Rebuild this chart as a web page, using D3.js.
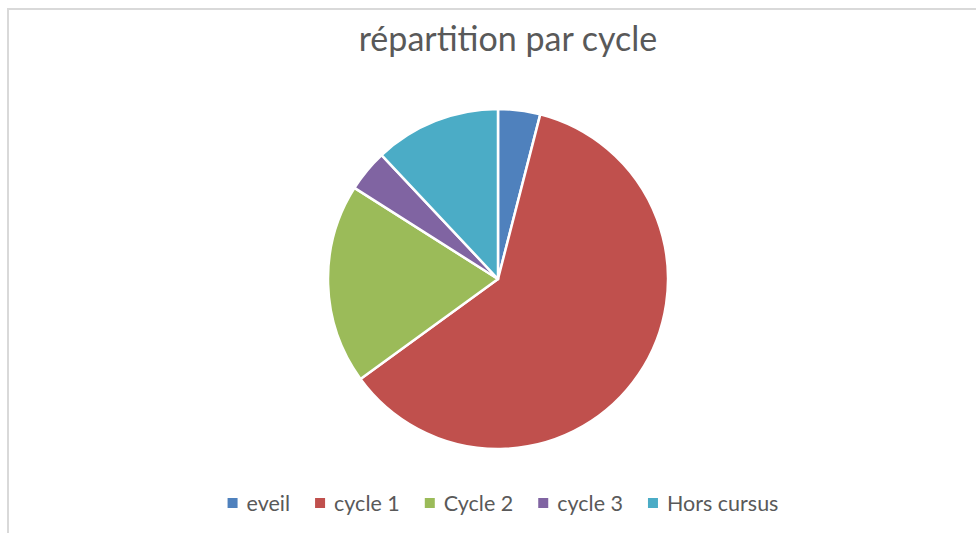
<!DOCTYPE html>
<meta charset="utf-8">
<script src="https://d3js.org/d3.v7.min.js"></script>
<style>
body { margin: 0; background: #fff; }
.title { font-family: Lato, "Open Sans", sans-serif; font-size: 34px; fill: #595959; }
.legend text { font-family: Lato, "Open Sans", sans-serif; font-size: 21.5px; fill: #595959; }
</style>
<body></body>
<script>

// chart data
var categories = ['eveil', 'cycle 1', 'Cycle 2', 'cycle 3', 'Hors cursus'];
var values = [4, 61, 19, 4, 12];
var colors = ['#4f81bd', '#c0504d', '#9bbb59', '#8064a2', '#4bacc6'];

var width = 976, height = 533;
var cx = 498, cy = 279, radius = 170;

var svg = d3.select('body').append('svg')
  .attr('width', width)
  .attr('height', height);

// chart area border
svg.append('rect')
  .attr('x', 8).attr('y', 9)
  .attr('width', width).attr('height', height)
  .attr('fill', 'none')
  .attr('stroke', '#d9d9d9')
  .attr('stroke-width', 2);

svg.append('text')
  .attr('class', 'title')
  .attr('x', 508)
  .attr('y', 51)
  .attr('text-anchor', 'middle')
  .text('répartition par cycle');

var data = categories.map(function(c, i) { return {name: c, value: values[i]}; });

var color = d3.scaleOrdinal().domain(categories).range(colors);

var pie = d3.pie()
  .sort(null)
  .value(function(d) { return d.value; });

var arc = d3.arc()
  .innerRadius(0)
  .outerRadius(radius);

svg.append('g')
  .attr('transform', 'translate(' + cx + ',' + cy + ')')
  .selectAll('path')
  .data(pie(data))
  .enter().append('path')
  .attr('d', arc)
  .attr('fill', function(d) { return color(d.data.name); })
  .attr('stroke', '#fff')
  .attr('stroke-width', 2.5)
  .attr('stroke-linejoin', 'round');

// legend, laid out from measured text widths and centred
var legend = svg.append('g').attr('class', 'legend');
var box = 10, gapText = 9, gapItem = 25;

var items = legend.selectAll('g')
  .data(categories)
  .enter().append('g');

items.append('rect')
  .attr('width', box).attr('height', box)
  .attr('y', -box / 2)
  .attr('fill', function(d) { return color(d); });

items.append('text')
  .attr('x', box + gapText)
  .attr('dy', '0.35em')
  .text(function(d) { return d; });

var xPos = 0;
items.each(function() {
  var w = d3.select(this).select('text').node().getComputedTextLength();
  d3.select(this).attr('transform', 'translate(' + xPos + ',0)');
  xPos += box + gapText + w + gapItem;
});
var total = xPos - gapItem;
legend.attr('transform', 'translate(' + (503 - total / 2) + ',503)');

</script>
